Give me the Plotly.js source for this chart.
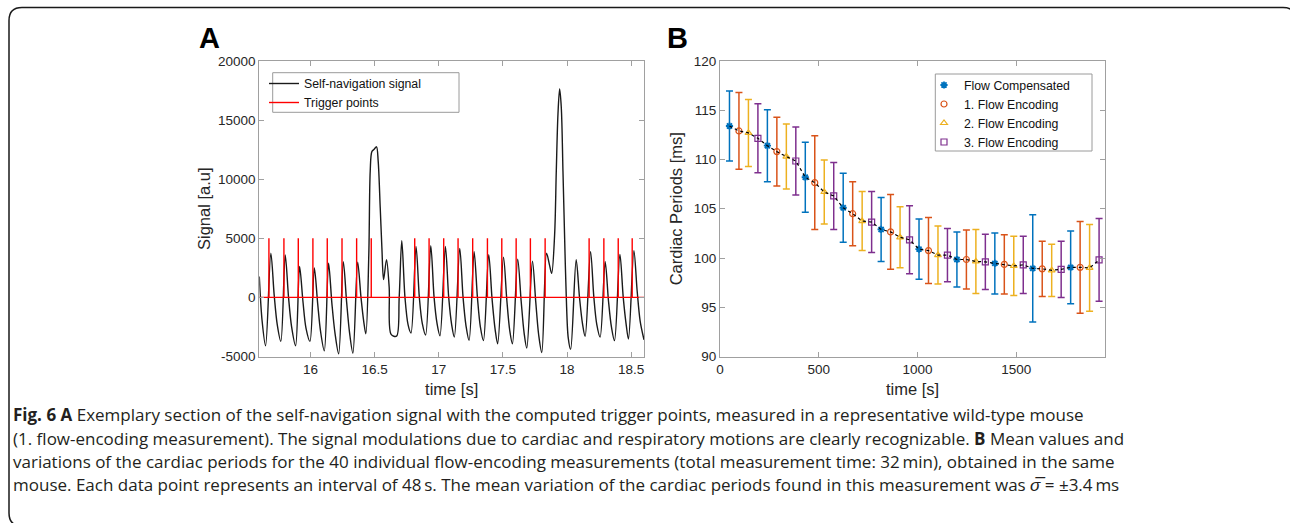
<!DOCTYPE html>
<html>
<head>
<meta charset="utf-8">
<script src="https://cdn.plot.ly/plotly-3.0.1.min.js"></script>
<style>
html,body{margin:0;padding:0;background:#ffffff;}
#chart{width:1290px;height:523px;}
</style>
</head>
<body>
<div id="chart"></div>
<script>
// ---------------- Panel A data ----------------
const sigTime = [
15.600, 15.622, 15.649, 15.690, 15.716, 15.740, 15.768,
15.802, 15.828, 15.852, 15.883,
15.914, 15.940, 15.964, 15.995,
16.029, 16.055, 16.078, 16.107,
16.140, 16.166, 16.190, 16.219,
16.255, 16.281, 16.304, 16.330,
16.367, 16.393, 16.414, 16.431,
16.454, 16.465, 16.478, 16.496, 16.514, 16.527, 16.543, 16.556, 16.569,
16.592, 16.613, 16.628, 16.670, 16.691, 16.711,
16.736, 16.760, 16.783,
16.822, 16.848, 16.871, 16.897,
16.937, 16.963, 16.986, 17.009,
17.051, 17.077, 17.100, 17.121,
17.163, 17.189, 17.212, 17.236,
17.275, 17.301, 17.324, 17.348,
17.389, 17.415, 17.439, 17.459,
17.504, 17.530, 17.553, 17.574,
17.615, 17.642, 17.665, 17.686,
17.730, 17.756, 17.779, 17.803,
17.840, 17.862, 17.880, 17.903, 17.916, 17.929, 17.942, 17.955, 17.968, 17.981, 17.994, 18.009, 18.028,
18.071, 18.097, 18.120, 18.141,
18.183, 18.209, 18.232, 18.258,
18.297, 18.323, 18.346, 18.370,
18.412, 18.438, 18.461, 18.479,
18.521, 18.547, 18.570, 18.600
];
const sigValue = [
1760, -2000, -4090, 3750, 200, -2300, -3720,
3600, 0, -2500, -4090,
2610, -300, -2600, -3720,
2500, -500, -2900, -4520,
2900, -500, -3000, -4770,
3010, -400, -3000, -4720,
2980, 0, -2000, -3080,
3640, 10700, 12340, 12540, 12740, 11550, 7600, 4200, 1500,
3200, 820, -3130, -3280, 0, 4800,
0, -2300, -3010,
4320, 0, -2200, -3180,
4370, 0, -2200, -3240,
4320, 0, -2300, -3350,
4150, 0, -2400, -3640,
3860, 0, -2500, -3660,
3610, -100, -2700, -3920,
3410, -200, -2800, -3920,
3240, -300, -3000, -4290,
3070, -400, -3200, -4660,
3750, 2800, 2030, 5300, 10700, 15500, 17630, 16070, 10700, 5060, 0, -3400, -4400,
3180, 0, -2200, -3300,
3860, 0, -2300, -3360,
3010, -300, -2500, -3660,
3640, 0, -2300, -3520,
3950, 500, -2000, -3580
];
const triggerTimes = [15.675, 15.792, 15.904, 16.018, 16.130, 16.245, 16.359, 16.473,
  16.812, 16.924, 17.038, 17.150, 17.264, 17.379, 17.491, 17.603, 17.714, 17.829,
  18.172, 18.287, 18.399, 18.508];
const triggerHeight = 5000;
const timeRangeA = [15.6, 18.6];
const xTicksA = [16, 16.5, 17, 17.5, 18, 18.5];
const xTickTextA = ['16', '16.5', '17', '17.5', '18', '18.5'];
const yTicksA = [-5000, 0, 5000, 10000, 15000, 20000];
const yTickTextA = ['-5000', '0', '5000', '10000', '15000', '20000'];

// ---------------- Panel B data ----------------
const seriesNames = ['Flow Compensated', '1. Flow Encoding', '2. Flow Encoding', '3. Flow Encoding'];
const flowCompTime = [48, 240, 432, 624, 816, 1008, 1200, 1392, 1584, 1776];
const flowCompMean = [113.4, 111.4, 108.2, 105.1, 102.9, 100.9, 99.85, 99.45, 98.95, 99.05];
const flowCompStd  = [3.55, 3.65, 3.55, 3.5, 3.25, 3.05, 2.8, 3.1, 5.45, 3.7];
const enc1Time = [96, 288, 480, 672, 864, 1056, 1248, 1440, 1632, 1824];
const enc1Mean = [112.9, 110.8, 107.65, 104.5, 102.65, 100.75, 99.85, 99.35, 98.9, 99.05];
const enc1Std  = [3.9, 3.5, 4.75, 3.25, 3.8, 3.35, 3.0, 3.0, 2.8, 4.65];
const enc2Time = [144, 336, 528, 720, 912, 1104, 1296, 1488, 1680, 1872];
const enc2Mean = [112.7, 110.3, 106.7, 103.75, 102.1, 100.3, 99.65, 99.2, 98.75, 99.0];
const enc2Std  = [3.4, 3.3, 3.25, 3.0, 3.1, 2.95, 3.25, 3.0, 2.65, 4.4];
const enc3Time = [192, 384, 576, 768, 960, 1152, 1344, 1536, 1728, 1920];
const enc3Mean = [112.15, 109.85, 106.3, 103.65, 101.85, 100.3, 99.6, 99.3, 98.85, 99.8];
const enc3Std  = [3.5, 3.45, 3.4, 3.1, 3.45, 2.7, 2.8, 2.9, 2.85, 4.2];
const xTicksB = [0, 500, 1000, 1500];
const yTicksB = [90, 95, 100, 105, 110, 115, 120];

// ---------------- Caption ----------------
const captionLines = [
  '<b>Fig. 6 A</b> Exemplary section of the self-navigation signal with the computed trigger points, measured in a representative wild-type mouse',
  '(1. flow-encoding measurement). The signal modulations due to cardiac and respiratory motions are clearly recognizable. <b>B</b> Mean values and',
  'variations of the cardiac periods for the 40 individual flow-encoding measurements (total measurement time: 32\u2009min), obtained in the same',
  'mouse. Each data point represents an interval of 48\u2009s. The mean variation of the cardiac periods found in this measurement was <i>\u03C3\u0305</i> = \u00B13.4\u2009ms'
];

// ---------------- build ----------------
const W = 1290, H = 523;
const PX = p => p / W;
const PY = p => 1 - p / H;

const trigX = [timeRangeA[0]], trigY = [0];
triggerTimes.forEach(t => { trigX.push(t, t, t); trigY.push(0, triggerHeight, 0); });
trigX.push(timeRangeA[1]); trigY.push(0);

const colors = ['#0072BD', '#D95319', '#EDB120', '#7E2F8E'];
const symbols = ['asterisk-open', 'circle-open', 'triangle-up-open', 'square-open'];
const bTimes = [flowCompTime, enc1Time, enc2Time, enc3Time];
const bMeans = [flowCompMean, enc1Mean, enc2Mean, enc3Mean];
const bStds = [flowCompStd, enc1Std, enc2Std, enc3Std];

const font = 'Liberation Sans, Arial, sans-serif';
const traces = [];
traces.push({x: sigTime, y: sigValue, type: 'scatter', mode: 'lines', name: 'Self-navigation signal',
  line: {color: '#1a1a1a', width: 1.4, shape: 'spline', smoothing: 0.9}, xaxis: 'x', yaxis: 'y', legend: 'legend'});
traces.push({x: trigX, y: trigY, type: 'scatter', mode: 'lines', name: 'Trigger points',
  line: {color: '#ff0000', width: 1.4}, xaxis: 'x', yaxis: 'y', legend: 'legend'});

for (let s = 0; s < 4; s++) {
  traces.push({x: bTimes[s], y: bMeans[s], type: 'scatter', mode: 'markers', name: seriesNames[s],
    marker: {symbol: symbols[s], size: 6, color: colors[s], line: {color: colors[s], width: s === 0 ? 1.8 : 1.2}},
    error_y: {type: 'data', array: bStds[s], visible: true, color: colors[s], thickness: 1.5, width: 3.5},
    xaxis: 'x2', yaxis: 'y2', legend: 'legend2'});
}
// dashed mean line through all points in time order
const allX = [], allY = [];
for (let k = 0; k < flowCompTime.length; k++) {
  for (let s = 0; s < 4; s++) { allX.push(bTimes[s][k]); allY.push(bMeans[s][k]); }
}
traces.push({x: allX, y: allY, type: 'scatter', mode: 'lines', showlegend: false, hoverinfo: 'skip',
  line: {color: '#000000', width: 1.2, dash: '3px,3px'}, xaxis: 'x2', yaxis: 'y2'});

const axisCommon = {
  showline: true, linecolor: '#a0a0a0', linewidth: 1, mirror: 'ticks',
  ticks: 'inside', ticklen: 5, tickcolor: '#a0a0a0', tickwidth: 1,
  showgrid: false, zeroline: false,
  tickfont: {family: font, size: 13.5, color: '#262626'}
};
const titleFont = {family: font, size: 16.5, color: '#262626'};
const yDom = [PY(356.5), PY(61)];
const legendFont = {family: font, size: 12.3, color: '#111'};

const layout = {
  width: W, height: H,
  margin: {l: 0, r: 0, t: 0, b: 0},
  paper_bgcolor: '#ffffff', plot_bgcolor: '#ffffff',
  showlegend: true,
  xaxis: Object.assign({}, axisCommon, {domain: [PX(259.3), PX(644)], range: timeRangeA, anchor: 'y',
    tickmode: 'array', tickvals: xTicksA, ticktext: xTickTextA,
    title: {text: 'time [s]', font: titleFont, standoff: 7}}),
  yaxis: Object.assign({}, axisCommon, {domain: yDom, range: [-5000, 20000], anchor: 'x',
    tickmode: 'array', tickvals: yTicksA, ticktext: yTickTextA,
    title: {text: 'Signal [a.u]', font: titleFont, standoff: 3}}),
  xaxis2: Object.assign({}, axisCommon, {domain: [PX(720), PX(1105)], range: [0, 1950], anchor: 'y2',
    tickmode: 'array', tickvals: xTicksB, ticktext: xTicksB.map(String),
    title: {text: 'time [s]', font: titleFont, standoff: 7}}),
  yaxis2: Object.assign({}, axisCommon, {domain: yDom, range: [90, 120], anchor: 'x2',
    tickmode: 'array', tickvals: yTicksB, ticktext: yTicksB.map(String),
    title: {text: 'Cardiac Periods [ms]', font: titleFont, standoff: 6}}),
  legend: {x: PX(264), y: PY(69), xanchor: 'left', yanchor: 'top', bgcolor: 'rgba(0,0,0,0)',
    borderwidth: 0, font: legendFont, itemwidth: 30, tracegroupgap: 0},
  legend2: {x: PX(924), y: PY(70.5), xanchor: 'left', yanchor: 'top', bgcolor: 'rgba(0,0,0,0)',
    borderwidth: 0, font: legendFont, itemwidth: 30, tracegroupgap: 0},
  annotations: [
    {text: '<b>A</b>', x: PX(197), y: PY(38), xref: 'paper', yref: 'paper', xanchor: 'left', yanchor: 'middle',
      showarrow: false, font: {family: font, size: 29, color: '#000'}},
    {text: '<b>B</b>', x: PX(665), y: PY(38), xref: 'paper', yref: 'paper', xanchor: 'left', yanchor: 'middle',
      showarrow: false, font: {family: font, size: 29, color: '#000'}}
  ],
  shapes: [
    {type: 'rect', xref: 'paper', yref: 'paper', x0: PX(272.7), x1: PX(459), y0: PY(112.3), y1: PY(72.7),
      line: {color: '#9a9a9a', width: 1}, fillcolor: 'rgba(0,0,0,0)', layer: 'above'},
    {type: 'rect', xref: 'paper', yref: 'paper', x0: PX(935.3), x1: PX(1092), y0: PY(151), y1: PY(74),
      line: {color: '#9a9a9a', width: 1}, fillcolor: 'rgba(0,0,0,0)', layer: 'above'}
  ]
};

const capY = [414, 438, 461, 484];
captionLines.forEach((t, i) => {
  layout.annotations.push({text: t, x: PX(11), y: PY(capY[i]), xref: 'paper', yref: 'paper',
    xanchor: 'left', yanchor: 'middle', showarrow: false, align: 'left',
    font: {family: 'Open Sans, sans-serif', size: 17, color: '#231f20'}});
});

// outer rounded frame
(function () {
  const L = 9, T = 7.5, R = 1296, B = 526, r = 13;
  const p = (x, y) => PX(x) + ',' + PY(y);
  const path = 'M' + p(L + r, T) + ' L' + p(R - r, T) + ' Q' + p(R, T) + ' ' + p(R, T + r) +
    ' L' + p(R, B - r) + ' Q' + p(R, B) + ' ' + p(R - r, B) + ' L' + p(L + r, B) +
    ' Q' + p(L, B) + ' ' + p(L, B - r) + ' L' + p(L, T + r) + ' Q' + p(L, T) + ' ' + p(L + r, T) + ' Z';
  layout.shapes.push({type: 'path', path: path, xref: 'paper', yref: 'paper',
    line: {color: '#1a1a1a', width: 1.5}, fillcolor: 'rgba(0,0,0,0)', layer: 'below'});
})();

Plotly.newPlot('chart', traces, layout, {displayModeBar: false, staticPlot: true});
</script>
</body>
</html>
